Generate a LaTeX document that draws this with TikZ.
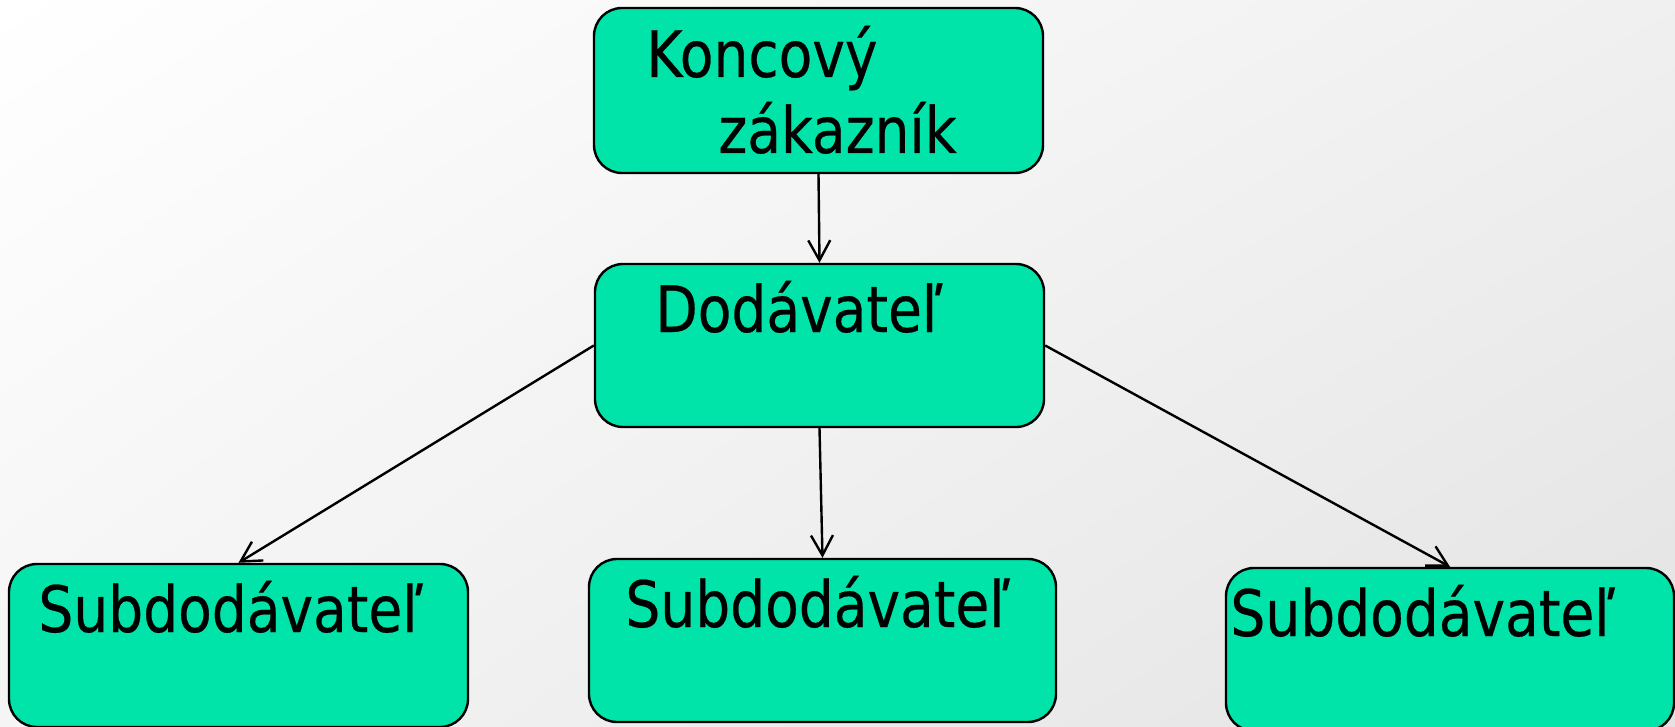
\documentclass[tikz,border=0pt]{standalone}
\usepackage{fontspec}
\setmainfont{DejaVu Sans}[FakeStretch=0.86, FakeBold=0.4]
\usetikzlibrary{arrows.meta}
\usetikzlibrary{shadings}

\definecolor{boxgreen}{HTML}{00E4AA}

\begin{document}
\begin{tikzpicture}[%
  x=0.5pt, y=-0.5pt,
  >={Straight Barb[length=10pt,width=11pt]},
  box/.style={draw=black, line width=1.2pt, fill=boxgreen, rounded corners=14pt, inner sep=0pt},
  lbl/.style={anchor=base west, inner sep=0pt, font=\fontsize{32}{38}\selectfont},
  link/.style={->, line width=1.2pt},
]

  \useasboundingbox (0,0) rectangle (1675,727);
  \clip (0,0) rectangle (1675,727);
  \shade[upper left=white, upper right=black!6, lower left=black!4, lower right=black!11]
    (0,0) rectangle (1675,727);

  % boxes
  \node[box, minimum width=224.5pt, minimum height=82.5pt] (koncovy) at (818.5,90.5) {};
  \node[box, minimum width=224.5pt, minimum height=81.5pt] (dodavatel) at (819.5,345.5) {};
  \node[box, minimum width=229.5pt, minimum height=81.5pt] (subA) at (238.5,645.5) {};
  \node[box, minimum width=233.5pt, minimum height=81.5pt] (subB) at (822.5,640.5) {};
  \node[box, minimum width=224pt, minimum height=81.5pt] (subC) at (1450,649.5) {};

  % texts
  \node[lbl] (koncovyA) at (646,77) {Koncový};
  \node[lbl] (koncovyB) at (718,153) {zákazník};
  \node[lbl] (dodavatelT) at (655,332) {Dodávateľ};
  \node[lbl] (subAT) at (38,632) {Subdodávateľ};
  \node[lbl] (subBT) at (625,627) {Subdodávateľ};
  \node[lbl] (subCT) at (1230,636) {Subdodávateľ};

  % links
  \draw[link] (koncovy.south) -- (dodavatel.north);
  \draw[link] (dodavatel.west) -- (subA.north);
  \draw[link] (dodavatel.south) -- (subB.north);
  \draw[link] (dodavatel.east) -- (subC.north);

\end{tikzpicture}
\end{document}
